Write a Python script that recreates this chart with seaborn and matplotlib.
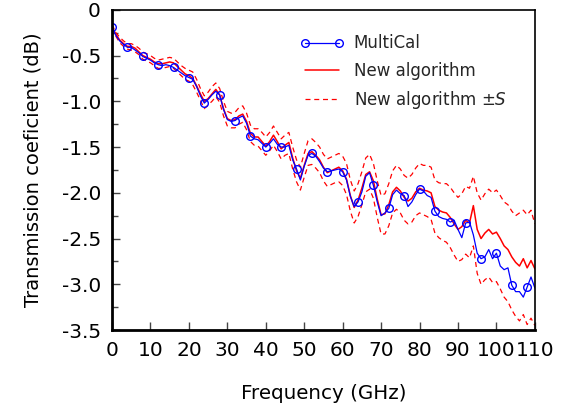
import matplotlib
matplotlib.use('Agg')
import matplotlib.pyplot as plt
import seaborn as sns
import numpy as np
import pandas as pd
from matplotlib.ticker import MultipleLocator, FixedLocator, FixedFormatter

# frequency grid (GHz), 1 GHz steps
freq = list(range(0, 111))

multical = [-0.19, -0.28, -0.34, -0.38, -0.41, -0.41, -0.44, -0.47, -0.51, -0.53,
            -0.55, -0.58, -0.60, -0.61, -0.60, -0.61, -0.63, -0.66, -0.69, -0.72,
            -0.74, -0.76, -0.84, -0.94, -1.02, -0.98, -0.93, -0.89, -0.93, -1.09,
            -1.20, -1.22, -1.21, -1.18, -1.16, -1.24, -1.38, -1.41, -1.42, -1.46,
            -1.50, -1.46, -1.41, -1.47, -1.50, -1.50, -1.48, -1.64, -1.74, -1.86,
            -1.71, -1.59, -1.57, -1.60, -1.66, -1.73, -1.77, -1.76, -1.75, -1.74,
            -1.77, -1.86, -2.04, -2.15, -2.10, -1.99, -1.82, -1.78, -1.92, -2.10,
            -2.25, -2.22, -2.17, -2.02, -1.97, -2.01, -2.03, -2.15, -2.10, -2.02,
            -1.96, -1.98, -2.03, -2.05, -2.20, -2.26, -2.28, -2.29, -2.32, -2.30,
            -2.40, -2.49, -2.33, -2.32, -2.46, -2.66, -2.72, -2.70, -2.62, -2.72,
            -2.66, -2.80, -2.84, -2.82, -3.01, -3.08, -3.08, -3.14, -3.03, -2.92,
            -3.04]

new_alg = [-0.18, -0.27, -0.33, -0.37, -0.40, -0.40, -0.42, -0.46, -0.50, -0.52,
           -0.54, -0.57, -0.59, -0.59, -0.58, -0.57, -0.58, -0.62, -0.66, -0.70,
           -0.72, -0.75, -0.83, -0.92, -1.00, -0.97, -0.92, -0.87, -0.93, -1.08,
           -1.19, -1.21, -1.20, -1.16, -1.14, -1.22, -1.35, -1.39, -1.39, -1.44,
           -1.49, -1.44, -1.37, -1.44, -1.52, -1.48, -1.45, -1.62, -1.76, -1.84,
           -1.70, -1.57, -1.55, -1.59, -1.64, -1.72, -1.78, -1.76, -1.74, -1.72,
           -1.76, -1.85, -2.03, -2.16, -2.08, -1.95, -1.80, -1.77, -1.87, -2.07,
           -2.24, -2.23, -2.13, -1.99, -1.94, -1.98, -2.05, -2.09, -2.06, -1.99,
           -1.95, -1.97, -1.98, -2.00, -2.15, -2.19, -2.21, -2.22, -2.27, -2.34,
           -2.40, -2.37, -2.30, -2.33, -2.14, -2.40, -2.50, -2.44, -2.40, -2.45,
           -2.43, -2.50, -2.58, -2.62, -2.70, -2.76, -2.80, -2.72, -2.82, -2.74,
           -2.83]

new_alg_up = [-0.16, -0.25, -0.30, -0.34, -0.37, -0.37, -0.39, -0.42, -0.46, -0.48,
              -0.50, -0.53, -0.55, -0.54, -0.53, -0.52, -0.53, -0.57, -0.61, -0.64,
              -0.66, -0.68, -0.76, -0.86, -0.94, -0.90, -0.84, -0.80, -0.86, -1.00,
              -1.11, -1.13, -1.12, -1.07, -1.05, -1.13, -1.26, -1.30, -1.30, -1.34,
              -1.39, -1.34, -1.27, -1.34, -1.41, -1.37, -1.34, -1.50, -1.64, -1.72,
              -1.57, -1.43, -1.41, -1.45, -1.50, -1.58, -1.63, -1.61, -1.59, -1.57,
              -1.60, -1.68, -1.86, -1.98, -1.90, -1.77, -1.62, -1.58, -1.68, -1.87,
              -2.03, -2.01, -1.90, -1.76, -1.70, -1.74, -1.81, -1.84, -1.80, -1.73,
              -1.68, -1.70, -1.70, -1.72, -1.86, -1.89, -1.90, -1.90, -1.94, -2.00,
              -2.05, -2.01, -1.93, -1.95, -1.82, -2.00, -2.08, -2.01, -1.96, -2.00,
              -1.97, -2.03, -2.10, -2.13, -2.20, -2.25, -2.22, -2.19, -2.24, -2.19,
              -2.34]

new_alg_low = [-0.20, -0.29, -0.36, -0.40, -0.43, -0.44, -0.46, -0.49, -0.54, -0.56,
               -0.58, -0.61, -0.64, -0.64, -0.63, -0.62, -0.64, -0.68, -0.72, -0.76,
               -0.78, -0.82, -0.90, -0.99, -1.08, -1.04, -1.00, -0.95, -1.01, -1.16,
               -1.27, -1.29, -1.29, -1.25, -1.23, -1.31, -1.44, -1.48, -1.49, -1.54,
               -1.59, -1.54, -1.48, -1.55, -1.63, -1.59, -1.57, -1.74, -1.88, -1.97,
               -1.83, -1.70, -1.69, -1.73, -1.78, -1.87, -1.93, -1.91, -1.89, -1.88,
               -1.92, -2.02, -2.20, -2.33, -2.26, -2.13, -1.99, -1.96, -2.06, -2.27,
               -2.45, -2.45, -2.36, -2.22, -2.18, -2.22, -2.30, -2.34, -2.32, -2.25,
               -2.22, -2.24, -2.26, -2.29, -2.44, -2.49, -2.52, -2.54, -2.60, -2.68,
               -2.75, -2.73, -2.67, -2.71, -2.58, -2.88, -3.00, -2.95, -2.92, -2.98,
               -2.97, -3.05, -3.14, -3.19, -3.28, -3.35, -3.40, -3.33, -3.44, -3.37,
               -3.45]

x_ticks = list(range(0, 111, 10))
y_ticks = [0, -0.5, -1.0, -1.5, -2.0, -2.5, -3.0, -3.5]
y_tick_labels = ['0', '-0.5', '-1.0', '-1.5', '-2.0', '-2.5', '-3.0', '-3.5']

lbl_s = r'New algorithm $\pm$$\it{S}$'

df = pd.DataFrame({'freq': freq, 'MultiCal': multical, 'new': new_alg,
                   'up': new_alg_up, 'low': new_alg_low})

sns.set_style('white')
plt.rcParams['font.family'] = ['DejaVu Sans']
plt.rcParams['mathtext.fontset'] = 'dejavusans'

fig = plt.figure(figsize=(5.63, 4.08), dpi=100)
ax = fig.add_axes([0.199, 0.191, 0.751, 0.785])

sns.lineplot(data=df, x='freq', y='up', ax=ax, color='#ff0000', lw=0.9,
             linestyle=(0, (4, 3)), label=lbl_s)
sns.lineplot(data=df, x='freq', y='low', ax=ax, color='#ff0000', lw=0.9,
             linestyle=(0, (4, 3)), label='_nolegend_')
sns.lineplot(data=df, x='freq', y='new', ax=ax, color='#ff0000', lw=1.1,
             label='New algorithm')
sns.lineplot(data=df, x='freq', y='MultiCal', ax=ax, color='#0000ff', lw=0.9,
             marker='o', markersize=5.5, markerfacecolor='none', markeredgecolor='#0000ff',
             markeredgewidth=1.0, markevery=4, label='MultiCal')

ax.set_xlim(0, 110)
ax.set_ylim(-3.5, 0)
ax.xaxis.set_major_locator(FixedLocator(x_ticks))
ax.yaxis.set_major_locator(FixedLocator(y_ticks))
ax.yaxis.set_major_formatter(FixedFormatter(y_tick_labels))
ax.yaxis.set_minor_locator(MultipleLocator(0.25))
ax.tick_params(axis='both', which='major', direction='in', length=6, width=1,
               labelsize=14.5, color='#444444', pad=8, bottom=True, left=True,
               top=False, right=False, labelcolor='black')
ax.tick_params(axis='y', which='minor', direction='in', length=4, width=1,
               color='#444444', left=True, right=False)

for side in ['left', 'bottom']:
    ax.spines[side].set_linewidth(2)
for side in ['top', 'right']:
    ax.spines[side].set_linewidth(1.2)
for s in ax.spines.values():
    s.set_color('black')

ax.set_xlabel('Frequency (GHz)', fontsize=14.3, labelpad=17, color='black')
ax.set_ylabel('Transmission coeficient (dB)', fontsize=14, labelpad=14, color='black')

h, l = ax.get_legend_handles_labels()
order = [l.index('MultiCal'), l.index('New algorithm'), l.index(lbl_s)]
ax.legend([h[i] for i in order], [l[i] for i in order], loc='upper left',
          bbox_to_anchor=(0.41, 0.97), frameon=False, fontsize=12,
          handlelength=2.6, handletextpad=0.6, labelspacing=0.55, numpoints=2)

fig.savefig('out.png', dpi=100)
